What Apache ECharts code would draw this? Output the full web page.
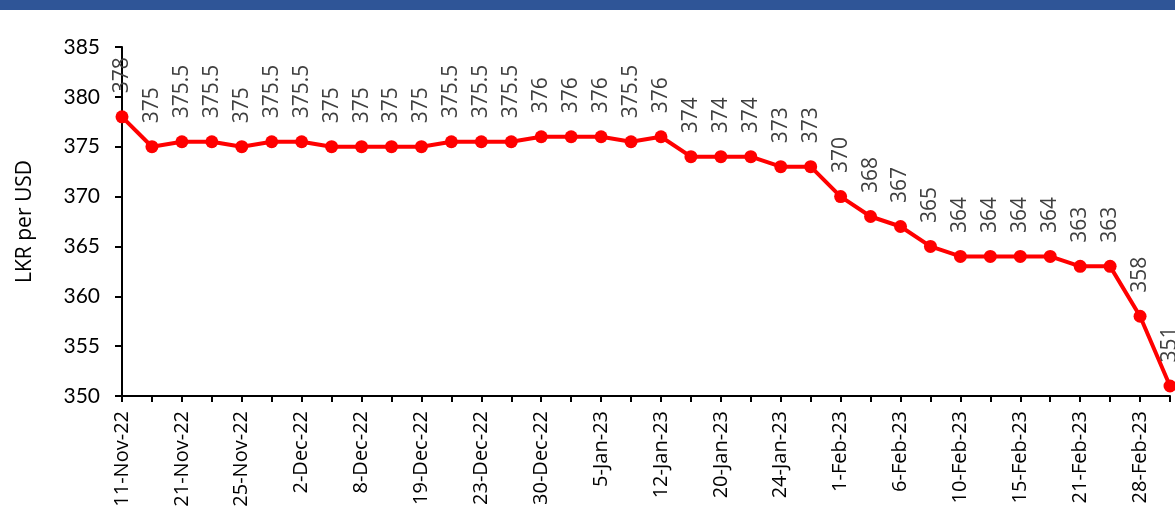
<!DOCTYPE html>
<html><head><meta charset="utf-8">
<script src="https://cdn.jsdelivr.net/npm/echarts@6/dist/echarts.min.js"></script>
<style>html,body{margin:0;padding:0;background:#fff;}#top{position:absolute;left:0;top:0;width:1175px;height:10px;background:#2f5597;}#c{width:1175px;height:507px;}</style>
</head><body><div id="c"></div><div id="top"></div>
<script>
const categories = ['11-Nov-22','18-Nov-22','21-Nov-22','23-Nov-22','25-Nov-22','30-Nov-22','2-Dec-22','6-Dec-22','8-Dec-22','15-Dec-22','19-Dec-22','21-Dec-22','23-Dec-22','28-Dec-22','30-Dec-22','3-Jan-23','5-Jan-23','10-Jan-23','12-Jan-23','17-Jan-23','20-Jan-23','23-Jan-23','24-Jan-23','27-Jan-23','1-Feb-23','3-Feb-23','6-Feb-23','8-Feb-23','10-Feb-23','14-Feb-23','15-Feb-23','17-Feb-23','21-Feb-23','24-Feb-23','28-Feb-23','3-Mar-23'];
const values = [378,375,375.5,375.5,375,375.5,375.5,375,375,375,375,375.5,375.5,375.5,376,376,376,375.5,376,374,374,374,373,373,370,368,367,365,364,364,364,364,363,363,358,351];
const yTicks = {min:350, max:385, interval:5};
const chart = echarts.init(document.getElementById('c'));
chart.setOption({
  animation:false,
  grid:{left:122,right:5,top:47,bottom:111,containLabel:false,outerBoundsMode:'none'},
  xAxis:{type:'category',data:categories,boundaryGap:false,
    axisLine:{lineStyle:{color:'#000',width:2}},
    axisTick:{show:true,interval:0,length:6,lineStyle:{color:'#000',width:2}},
    axisLabel:{interval:1,rotate:90,margin:15,fontFamily:'Open Sans',fontSize:20,color:'#000'}},
  yAxis:{type:'value',min:yTicks.min,max:yTicks.max,interval:yTicks.interval,
    name:'LKR per USD',nameLocation:'middle',nameGap:86,nameRotate:90,
    nameTextStyle:{fontFamily:'Open Sans',fontSize:21,color:'#000'},
    axisLine:{show:true,lineStyle:{color:'#000',width:2}},
    axisTick:{show:true,length:7,lineStyle:{color:'#000',width:2}},
    splitLine:{show:false},
    axisLabel:{margin:22,fontFamily:'Lato',fontSize:21,color:'#000'}},
  series:[{type:'line',data:values,color:'#ff0000',
    lineStyle:{width:4,color:'#ff0000'},symbol:'circle',symbolSize:13,
    itemStyle:{color:'#ff0000'},
    label:{show:true,position:'top',rotate:90,align:'left',verticalAlign:'middle',distance:17,
      fontFamily:'Open Sans',fontSize:21,color:'#404040'}}]
});
</script></body></html>
